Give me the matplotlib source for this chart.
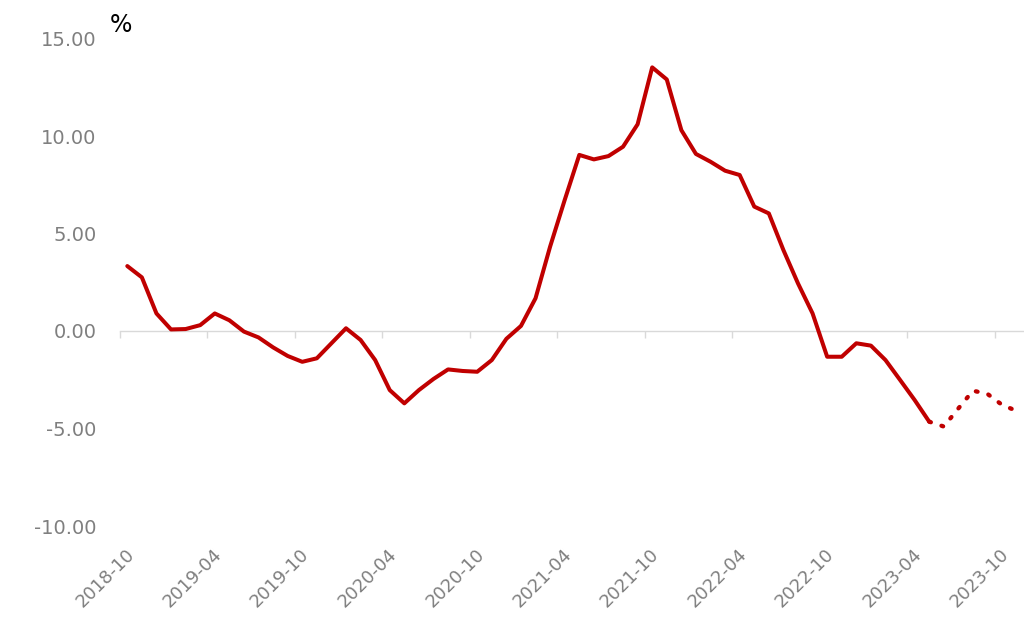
import numpy as np
import pandas as pd
import matplotlib
matplotlib.use("Agg")
import matplotlib.pyplot as plt

# monthly series, 2018-10 .. 2023-11
months = pd.period_range("2018-10", "2023-11", freq="M").strftime("%Y-%m").tolist()

actual = [
    3.33, 2.75, 0.90, 0.08, 0.10, 0.30, 0.90, 0.55, -0.03, -0.33,
    -0.84, -1.28, -1.58, -1.40, -0.63, 0.14, -0.46, -1.49, -3.03, -3.71,
    -3.03, -2.46, -1.97, -2.05, -2.09, -1.49, -0.40, 0.26, 1.68, 4.33,
    6.72, 9.03, 8.80, 8.97, 9.45, 10.60, 13.52, 12.90, 10.30, 9.08,
    8.68, 8.22, 8.00, 6.38, 6.03, 4.15, 2.44, 0.90, -1.32, -1.32,
    -0.63, -0.75, -1.49, -2.51, -3.54, -4.65,
]  # 2018-10 .. 2023-05
forecast = [-4.90, -3.97, -3.06, -3.23, -3.79, -4.10]  # 2023-06 .. 2023-11

yticks = [-10, -5, 0, 5, 10, 15]

red = "#C00000"
grey = "#7f7f7f"

fig = plt.figure(figsize=(10.24, 6.2), dpi=100)
ax = fig.add_axes([120 / 1024, 94 / 620, 904 / 1024, 487.5 / 620])

x_act = np.arange(len(actual))
x_fc = np.arange(len(actual) - 1, len(actual) + len(forecast))
ax.plot(x_act, actual, color=red, lw=2.9,
        solid_joinstyle="round", solid_capstyle="round", zorder=3)
ax.plot(x_fc, [actual[-1]] + forecast, color=red, lw=3.1,
        linestyle=(0, (0.4, 2.6)), dash_capstyle="round", zorder=3)

ax.set_xlim(-0.5, len(months) - 0.5)
ax.set_ylim(-10, 15)

# axis line sits on zero, ticks on category boundaries every 6 months
for s in ["left", "right", "top"]:
    ax.spines[s].set_visible(False)
ax.spines["bottom"].set_position(("data", 0))
ax.spines["bottom"].set_color("#d9d9d9")
ax.spines["bottom"].set_linewidth(1.0)
ax.set_xticks(np.arange(-0.5, len(months), 6))
ax.tick_params(axis="x", length=5, width=1, color="#d9d9d9", labelbottom=False)

ax.set_yticks(yticks)
ax.set_yticklabels([f"{v:.2f}" for v in yticks])
ax.tick_params(axis="y", length=0, pad=17, labelsize=14, labelcolor=grey)

# category labels below the plot
trans = ax.get_xaxis_transform()
for i in range(0, len(months), 6):
    ax.text(i - 0.15, -0.04, months[i], transform=trans, rotation=45,
            rotation_mode="anchor", ha="right", va="top",
            fontsize=13, color=grey)

fig.text(121 / 1024, 1 - 25 / 620, "%", fontsize=17, color="black",
         ha="center", va="center")

fig.savefig("out.png", dpi=100, facecolor="white")
